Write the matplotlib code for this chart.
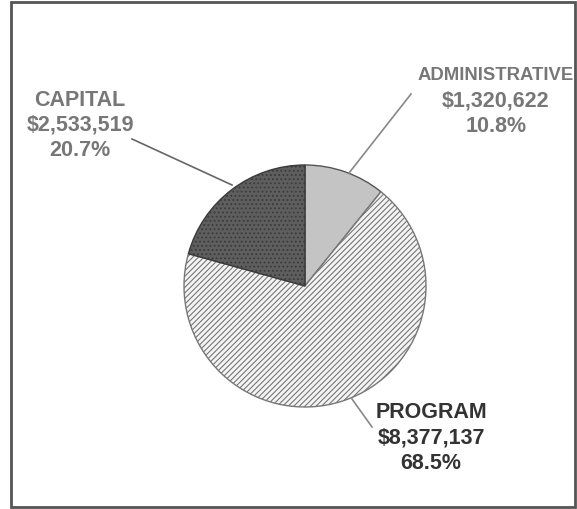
import matplotlib.pyplot as plt
from matplotlib.patches import Rectangle

names = ['ADMINISTRATIVE', 'PROGRAM', 'CAPITAL']
amounts = ['$1,320,622', '$8,377,137', '$2,533,519']
shares = [10.8, 68.5, 20.7]

H = 510
plt.rcParams['font.family'] = ['Liberation Sans', 'DejaVu Sans']
plt.rcParams['hatch.linewidth'] = 0.8

fig = plt.figure(figsize=(5.77, 5.10), dpi=100)
ax = fig.add_axes([0, 0, 1, 1])
ax.set_xlim(0, 577)
ax.set_ylim(0, H)
ax.set_aspect('equal')
ax.axis('off')

wedges, _ = ax.pie(shares, startangle=90, counterclock=False,
                   center=(305, H - 287), radius=121,
                   colors=['#c4c4c4', '#f4f4f4', '#5e5e5e'],
                   wedgeprops=dict(edgecolor='#555555', linewidth=1.2))
ax.set_xlim(0, 577)
ax.set_ylim(0, H)
wedges[1].set_hatch('//////')
wedges[1].set_edgecolor('#777777')
wedges[2].set_hatch('....')
wedges[2].set_edgecolor('#3a3a3a')
for w in wedges:
    w.set_linewidth(1.0)

# frame
ax.add_patch(Rectangle((11, 2), 564, H - 5, fill=False, edgecolor='#555555', linewidth=2))

# leader lines
ax.plot([349, 411], [H - 174, H - 95], color='#888888', lw=1.2)
ax.plot([132, 232], [H - 140, H - 186], color='#666666', lw=1.2)
ax.plot([352, 372], [H - 400, H - 428], color='#888888', lw=1.2)

pos = [(496, 75), (431, 413), (80, 100)]
tcol = ['#777777', '#333333', '#777777']
for i in range(3):
    x, y = pos[i]
    lines = [names[i], amounts[i], f'{shares[i]}%']
    for j, s in enumerate(lines):
        fs = 13.3 if (i == 0 and j == 0) else 15.5
        ax.text(x, H - (y + 25.5 * j), s, ha='center', va='center',
                fontsize=fs, fontweight='bold', color=tcol[i])

fig.savefig('out.png', dpi=100)
